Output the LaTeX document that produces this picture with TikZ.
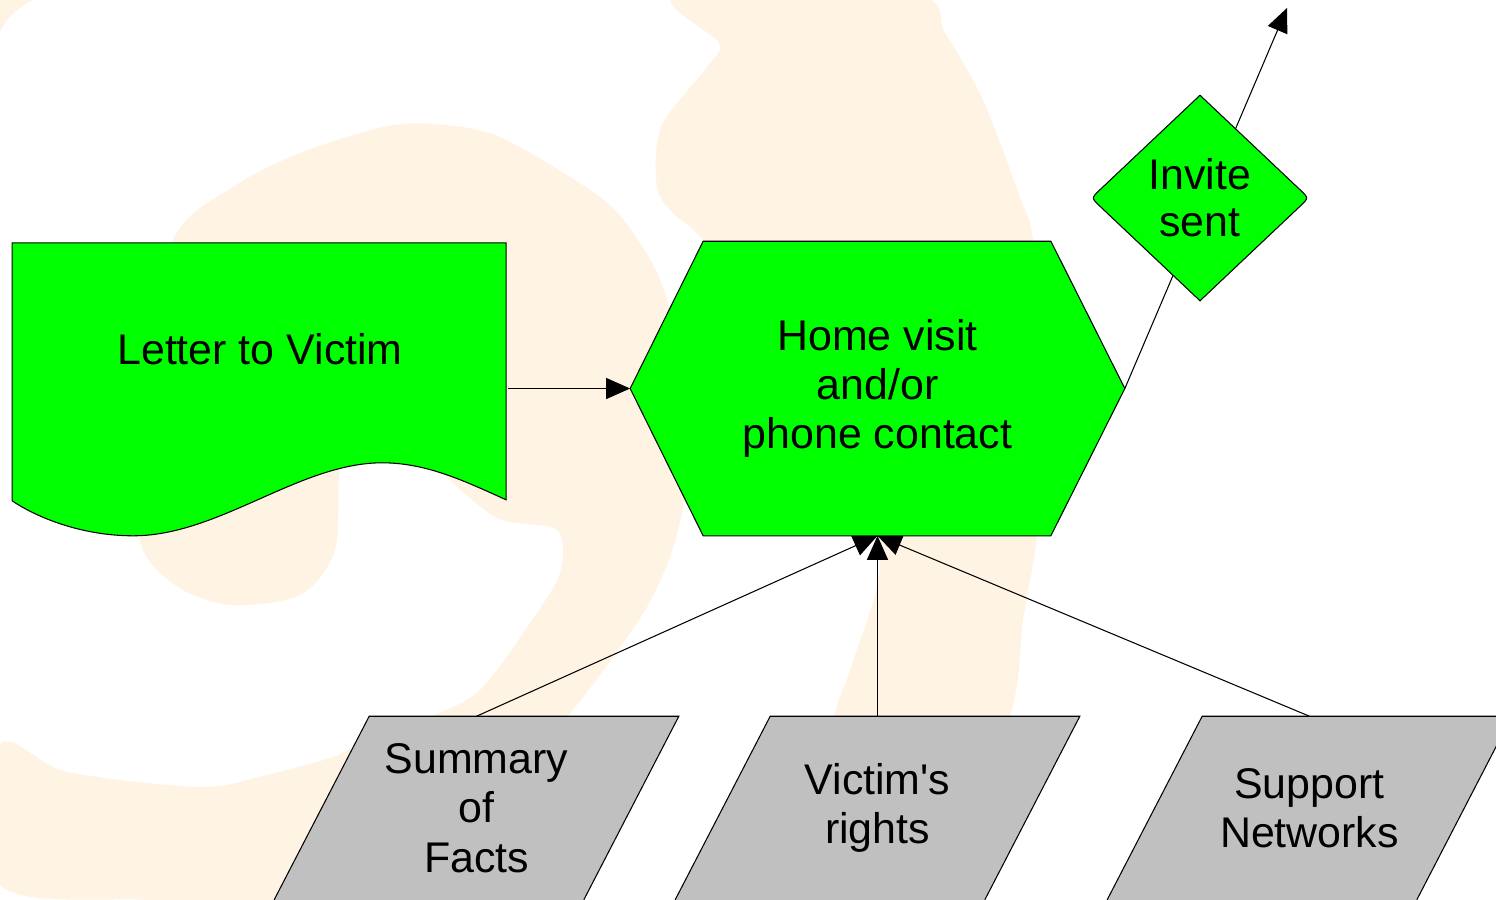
\documentclass[tikz,border=0pt]{standalone}
\usepackage{fontspec}
\setmainfont{Liberation Sans}
\usetikzlibrary{arrows.meta,calc}
\definecolor{wmbeige}{RGB}{255,243,227}
\definecolor{shapegreen}{RGB}{0,255,0}
\definecolor{shapegray}{RGB}{192,192,192}
\pgfdeclarelayer{wm}
\pgfdeclarelayer{lines}
\pgfdeclarelayer{shapes}
\pgfsetlayers{wm,lines,shapes,main}
\begin{document}
\begin{tikzpicture}[x=0.01cm,y=-0.01cm,
  lbl/.style={inner sep=0pt, font=\fontsize{12.2pt}{14pt}\selectfont},
  mlbl/.style={lbl, align=center},
  outline/.style={draw=black, line width=0.3pt},
  conn/.style={draw=black, line width=0.3pt, -{Triangle[length=0.24cm,width=0.21cm]}},
  parbox/.style={mlbl, minimum width=4.03cm, minimum height=1.82cm}
]
\useasboundingbox (0,0) rectangle (1496,899);

% ---------- nodes (text) ----------
\node[lbl, minimum width=4.94cm, text height=1.22cm, text depth=1.71cm] (letter) at (260,388.5) {Letter to Victim};
\node[mlbl, minimum width=4.93cm, minimum height=2.93cm] (hex) at (877.5,388.5) {Home visit\\and/or\\phone contact};
\node[mlbl, minimum width=2.16cm, minimum height=2.04cm, font=\fontsize{12.2pt}{13.4pt}\selectfont] (invite) at (1200,198) {Invite\\sent};
\node[parbox] (summary) at (476.5,808) {Summary\\of\\Facts};
\node[parbox] (rights) at (877.5,808) {Victim\textquotesingle s\\rights};
\node[parbox] (support) at (1309.5,808) {Support\\Networks};
\coordinate (out) at (1287,8);

% ---------- watermark ----------
\begin{pgfonlayer}{wm}
  \fill[white] (0,0) rectangle (1496,899);
  \fill[wmbeige] (0,0) -- (32,0) .. controls (15,10) and (5,20) .. (0,32) -- cycle;
  \fill[wmbeige] plot[smooth cycle, tension=0.5] coordinates {
    (0,745) (67,772) (200,787) (267,775) (333,757) (367,740) (430,717)
    (480,690) (530,623) (560,573) (557,530) (497,518) (440,470) (400,420)
    (360,420) (340,467) (335,550) (300,595) (230,605) (175,585) (139,537)
    (140,400) (173,240) (233,187) (300,153) (383,127) (433,124) (500,137)
    (600,197) (638,240) (665,293) (690,400) (684,500) (670,557) (647,607)
    (613,657) (567,717) (500,790) (400,860) (300,905) (150,900) (0,885)};
  \fill[wmbeige] plot[smooth cycle, tension=0.5] coordinates {
    (677,-5) (719,43) (707,67) (661,127) (657,187) (673,213) (703,240)
    (780,340) (840,450) (880,560) (850,670) (834,717) (790,905) (940,905)
    (1010,717) (1023,620) (1037,537) (1050,400) (1033,240) (1021,200)
    (983,100) (945,33) (914,-5)};
\end{pgfonlayer}

% ---------- shapes ----------
\begin{pgfonlayer}{shapes}
  \begin{scope}[shift={(letter.south west)}]
    \filldraw[fill=shapegreen, outline] (0,-293) -- (494,-293) -- (494,-36)
      .. controls (454,-54) and (415,-73) .. (370,-73)
      .. controls (287,-73) and (207,0) .. (121,0)
      .. controls (67,0) and (22,-20) .. (0,-35) -- cycle;
  \end{scope}
  \filldraw[fill=shapegreen, outline] (hex.west) -- ($(hex.north west)+(73,0)$)
    -- ($(hex.north east)+(-74,0)$) -- (hex.east)
    -- ($(hex.south east)+(-74,0)$) -- ($(hex.south west)+(73,0)$) -- cycle;
  \filldraw[fill=shapegreen, outline] (invite.north)
    -- ($(invite.north)!0.92!(invite.east)$) .. controls (invite.east) .. ($(invite.east)!0.08!(invite.south)$)
    -- (invite.south)
    -- ($(invite.south)!0.92!(invite.west)$) .. controls (invite.west) .. ($(invite.west)!0.08!(invite.north)$)
    -- cycle;
  \foreach \n in {summary,rights,support}{
    \fill[shapegray] ($(\n.north west)+(95,0)$) -- (\n.north east)
      -- ($(\n.south east)+(-95,0)$) -- (\n.south west) -- cycle;
    \draw[outline] (\n.south west) -- ($(\n.north west)+(95,0)$) -- (\n.north east)
      -- ($(\n.south east)+(-95,0)$);
  }
\end{pgfonlayer}

% ---------- connectors ----------
\begin{pgfonlayer}{lines}
  \draw[conn] (letter.east) -- (hex.west);
  \draw[conn] (hex.east) -- (out);
  \draw[conn] (summary.north) -- (hex.south);
  \draw[conn] (rights.north) -- (hex.south);
  \draw[conn] (support.north) -- (hex.south);
\end{pgfonlayer}
\end{tikzpicture}
\end{document}
